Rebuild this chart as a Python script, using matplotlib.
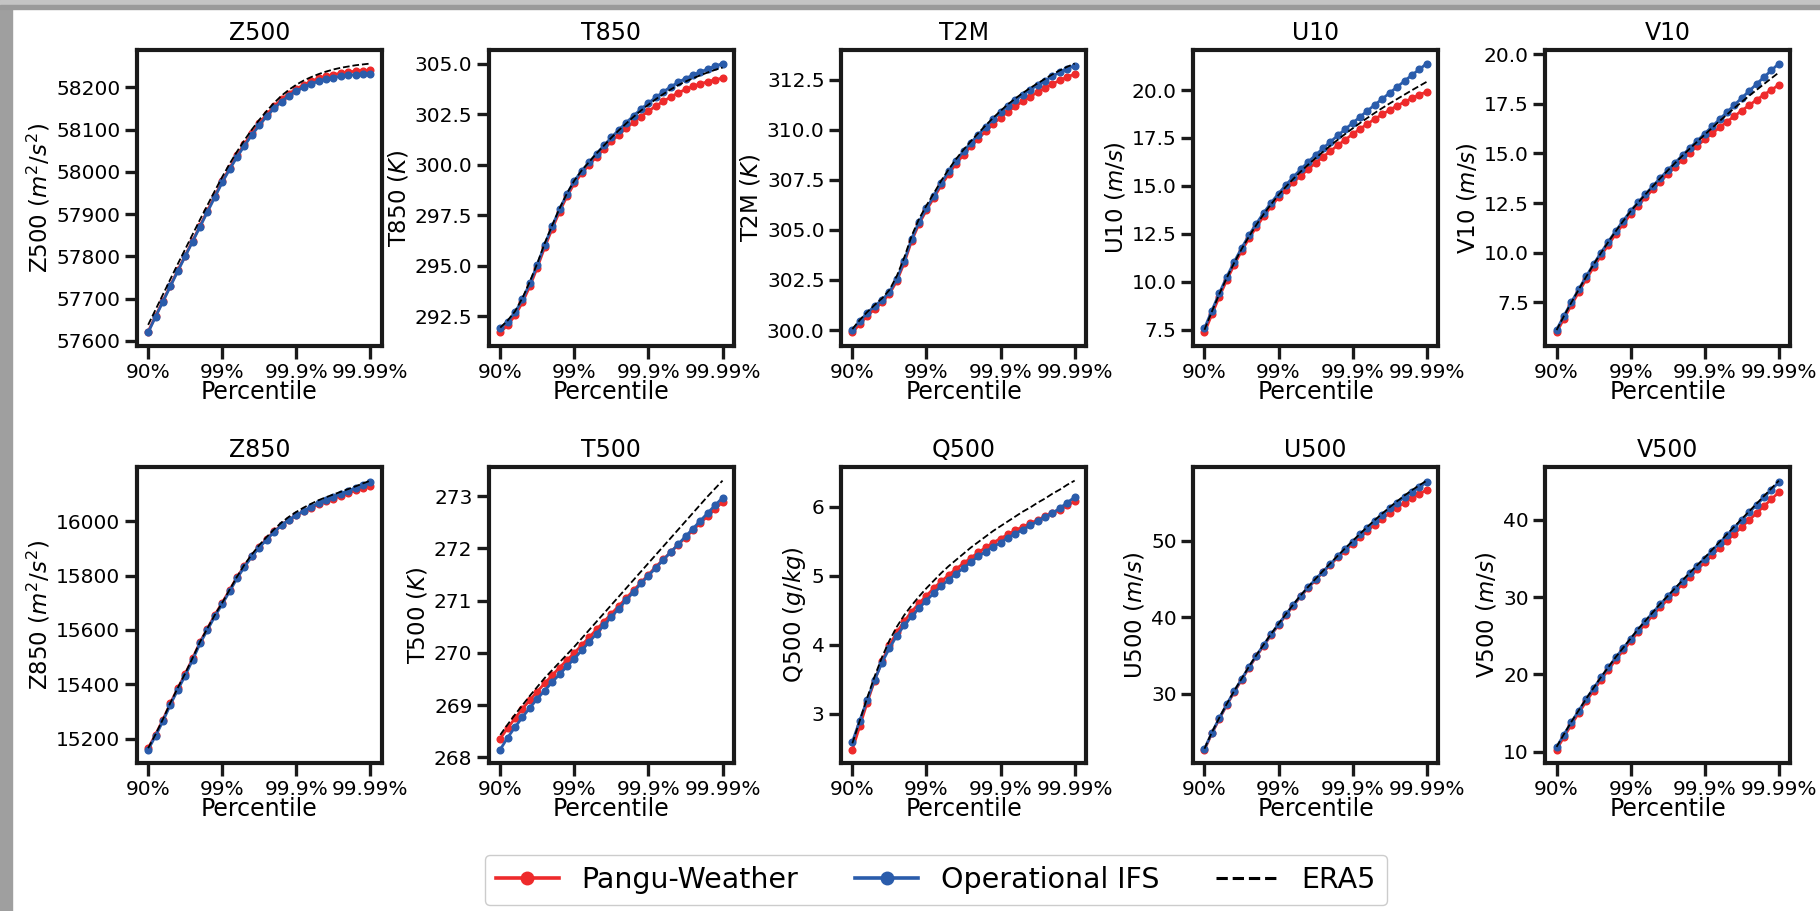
import numpy as np
import matplotlib
matplotlib.use("Agg")
import matplotlib.pyplot as plt
from matplotlib.lines import Line2D
from matplotlib.patches import Rectangle
from matplotlib.ticker import MultipleLocator

# posiciones en x: -log10(1 - p), 90% -> 1 ... 99.99% -> 4, paso 0.1
x_pos = np.arange(31) / 10 + 1
tick_pos = [1, 2, 3, 4]
tick_labels = ["90%", "99%", "99.9%", "99.99%"]

series_names = ["Pangu-Weather", "Operational IFS", "ERA5"]

# ---- fila superior ----
z500_pangu = [57622, 57659, 57695, 57731, 57767, 57802, 57837, 57872, 57908, 57943, 57978,
              58009, 58039, 58066, 58091, 58115, 58136, 58155, 58171, 58185, 58196,
              58206, 58214, 58221, 58226, 58230, 58233, 58236, 58238, 58239, 58240]
z500_ifs = [57620, 57657, 57693, 57729, 57765, 57800, 57835, 57870, 57905, 57940, 57975,
            58006, 58035, 58062, 58087, 58110, 58131, 58150, 58166, 58180, 58191,
            58200, 58208, 58214, 58219, 58223, 58226, 58228, 58230, 58231, 58232]
z500_era5 = [57638, 57674, 57710, 57746, 57782, 57817, 57852, 57887, 57921, 57955, 57988,
             58019, 58048, 58075, 58100, 58123, 58144, 58163, 58180, 58194, 58206,
             58216, 58224, 58231, 58237, 58242, 58246, 58249, 58252, 58254, 58256]

t850_pangu = [291.71, 292.08, 292.55, 293.2, 294.0, 294.92, 295.92, 296.83, 297.68, 298.43, 299.08,
              299.58, 300.0, 300.4, 300.78, 301.15, 301.48, 301.8, 302.1, 302.38, 302.65,
              302.9, 303.13, 303.35, 303.55, 303.72, 303.87, 304.0, 304.1, 304.2, 304.28]
t850_ifs = [291.91, 292.25, 292.7, 293.35, 294.15, 295.05, 296.05, 296.95, 297.8, 298.55, 299.2,
            299.7, 300.12, 300.55, 300.95, 301.35, 301.72, 302.08, 302.42, 302.75, 303.05,
            303.33, 303.6, 303.85, 304.07, 304.26, 304.43, 304.58, 304.73, 304.87, 305.0]
t850_era5 = [291.95, 292.3, 292.76, 293.42, 294.23, 295.13, 296.12, 297.0, 297.84, 298.58, 299.22,
             299.72, 300.14, 300.56, 300.95, 301.34, 301.7, 302.04, 302.37, 302.68, 302.97,
             303.24, 303.49, 303.72, 303.93, 304.11, 304.27, 304.42, 304.56, 304.69, 304.8]

t2m_pangu = [299.88, 300.3, 300.7, 301.05, 301.38, 301.8, 302.45, 303.35, 304.45, 305.3, 305.98,
             306.6, 307.23, 307.78, 308.3, 308.75, 309.17, 309.55, 309.93, 310.28, 310.6,
             310.9, 311.17, 311.42, 311.65, 311.87, 312.08, 312.28, 312.46, 312.63, 312.78]
t2m_ifs = [300.0, 300.45, 300.85, 301.2, 301.5, 301.9, 302.55, 303.45, 304.55, 305.4, 306.08,
           306.7, 307.35, 307.92, 308.45, 308.92, 309.35, 309.75, 310.15, 310.52, 310.87,
           311.2, 311.48, 311.75, 312.0, 312.22, 312.45, 312.67, 312.87, 313.05, 313.2]
t2m_era5 = [300.05, 300.5, 300.9, 301.25, 301.58, 302.0, 302.7, 303.62, 304.7, 305.55, 306.22,
            306.83, 307.46, 308.02, 308.54, 309.0, 309.43, 309.83, 310.22, 310.59, 310.94,
            311.27, 311.56, 311.83, 312.08, 312.31, 312.54, 312.76, 312.96, 313.14, 313.3]

u10_pangu = [7.36, 8.3, 9.22, 10.08, 10.88, 11.6, 12.26, 12.86, 13.42, 13.93, 14.41,
             14.8, 15.18, 15.53, 15.87, 16.2, 16.51, 16.82, 17.12, 17.41, 17.7,
             17.97, 18.24, 18.49, 18.73, 18.96, 19.18, 19.38, 19.57, 19.75, 19.91]
u10_ifs = [7.57, 8.5, 9.4, 10.25, 11.03, 11.75, 12.42, 13.03, 13.6, 14.12, 14.6,
           15.05, 15.47, 15.87, 16.25, 16.61, 16.96, 17.3, 17.63, 17.96, 18.28,
           18.6, 18.92, 19.23, 19.54, 19.85, 20.16, 20.47, 20.78, 21.08, 21.38]
u10_era5 = [7.5, 8.45, 9.36, 10.2, 10.98, 11.7, 12.36, 12.97, 13.53, 14.05, 14.53,
            14.96, 15.37, 15.75, 16.11, 16.45, 16.78, 17.1, 17.41, 17.71, 18.0,
            18.28, 18.55, 18.81, 19.06, 19.3, 19.53, 19.76, 19.99, 20.21, 20.43]

v10_pangu = [5.98, 6.68, 7.36, 8.02, 8.66, 9.27, 9.85, 10.41, 10.94, 11.45, 11.94,
             12.37, 12.79, 13.19, 13.58, 13.96, 14.33, 14.69, 15.04, 15.38, 15.71,
             16.01, 16.31, 16.6, 16.88, 17.16, 17.43, 17.7, 17.96, 18.21, 18.45]
v10_ifs = [6.11, 6.82, 7.5, 8.16, 8.8, 9.42, 10.0, 10.56, 11.1, 11.61, 12.1,
           12.53, 12.95, 13.36, 13.76, 14.15, 14.53, 14.91, 15.28, 15.64, 16.0,
           16.36, 16.72, 17.08, 17.44, 17.8, 18.15, 18.5, 18.85, 19.19, 19.53]
v10_era5 = [6.1, 6.81, 7.49, 8.15, 8.79, 9.41, 9.99, 10.55, 11.09, 11.6, 12.09,
            12.52, 12.94, 13.35, 13.75, 14.14, 14.52, 14.89, 15.25, 15.6, 15.95,
            16.29, 16.63, 16.96, 17.29, 17.6, 17.91, 18.2, 18.5, 18.79, 19.08]

# ---- fila inferior ----
z850_pangu = [15165, 15215, 15270, 15330, 15385, 15438, 15495, 15555, 15605, 15655, 15700,
              15747, 15794, 15836, 15873, 15906, 15935, 15962, 15986, 16005, 16021,
              16036, 16050, 16062, 16073, 16083, 16093, 16103, 16113, 16122, 16131]
z850_ifs = [15160, 15210, 15265, 15325, 15380, 15432, 15490, 15550, 15600, 15650, 15695,
            15742, 15790, 15832, 15870, 15903, 15932, 15960, 15985, 16005, 16022,
            16038, 16053, 16067, 16079, 16090, 16101, 16112, 16122, 16132, 16143]
z850_era5 = [15165, 15216, 15272, 15332, 15387, 15440, 15497, 15556, 15606, 15655, 15700,
             15748, 15796, 15840, 15878, 15912, 15942, 15970, 15995, 16016, 16034,
             16050, 16064, 16077, 16088, 16098, 16108, 16118, 16128, 16139, 16149]

t500_pangu = [268.36, 268.56, 268.75, 268.93, 269.1, 269.26, 269.42, 269.57, 269.72, 269.86, 270.0,
              270.15, 270.3, 270.45, 270.6, 270.75, 270.9, 271.05, 271.2, 271.35, 271.5,
              271.65, 271.79, 271.93, 272.07, 272.21, 272.35, 272.49, 272.62, 272.76, 272.89]
t500_ifs = [268.15, 268.38, 268.58, 268.77, 268.95, 269.12, 269.28, 269.44, 269.59, 269.74, 269.89,
            270.05, 270.21, 270.37, 270.53, 270.69, 270.85, 271.01, 271.17, 271.33, 271.48,
            271.63, 271.78, 271.93, 272.08, 272.23, 272.38, 272.53, 272.68, 272.83, 272.97]
t500_era5 = [268.43, 268.63, 268.82, 269.0, 269.18, 269.35, 269.52, 269.67, 269.82, 269.97, 270.12,
             270.28, 270.44, 270.6, 270.76, 270.92, 271.08, 271.24, 271.4, 271.56, 271.72,
             271.88, 272.04, 272.2, 272.36, 272.52, 272.68, 272.84, 273.0, 273.15, 273.3]

q500_pangu = [2.48, 2.82, 3.16, 3.48, 3.76, 3.99, 4.18, 4.34, 4.48, 4.6, 4.71,
              4.82, 4.92, 5.01, 5.1, 5.18, 5.26, 5.34, 5.41, 5.48, 5.54,
              5.6, 5.66, 5.71, 5.76, 5.81, 5.86, 5.91, 5.96, 6.02, 6.08]
q500_ifs = [2.59, 2.9, 3.2, 3.49, 3.74, 3.95, 4.13, 4.28, 4.41, 4.53, 4.64,
            4.75, 4.85, 4.94, 5.03, 5.11, 5.2, 5.28, 5.35, 5.42, 5.48,
            5.55, 5.61, 5.67, 5.73, 5.79, 5.85, 5.91, 5.98, 6.06, 6.14]
q500_era5 = [2.57, 2.9, 3.23, 3.54, 3.82, 4.06, 4.26, 4.43, 4.57, 4.7, 4.82,
             4.93, 5.04, 5.14, 5.23, 5.32, 5.41, 5.49, 5.57, 5.65, 5.72,
             5.79, 5.86, 5.93, 5.99, 6.06, 6.12, 6.19, 6.25, 6.32, 6.38]

u500_pangu = [22.7, 24.8, 26.7, 28.5, 30.2, 31.8, 33.4, 34.9, 36.3, 37.7, 39.0,
              40.3, 41.55, 42.75, 43.85, 44.9, 45.9, 46.9, 47.85, 48.75, 49.65,
              50.5, 51.35, 52.15, 52.9, 53.65, 54.35, 55.0, 55.6, 56.15, 56.7]
u500_ifs = [22.78, 24.9, 26.8, 28.6, 30.3, 31.9, 33.5, 35.0, 36.4, 37.8, 39.1,
            40.4, 41.65, 42.85, 43.95, 45.0, 46.0, 47.0, 48.0, 48.95, 49.9,
            50.85, 51.75, 52.6, 53.45, 54.25, 55.0, 55.75, 56.4, 57.05, 57.7]
u500_era5 = [22.8, 24.95, 26.85, 28.65, 30.35, 31.95, 33.55, 35.05, 36.45, 37.85, 39.15,
             40.45, 41.7, 42.9, 44.0, 45.05, 46.08, 47.08, 48.08, 49.05, 50.0,
             50.95, 51.87, 52.75, 53.6, 54.42, 55.2, 55.96, 56.65, 57.3, 57.9]

v500_pangu = [10.26, 11.9, 13.5, 15.0, 16.5, 17.9, 19.3, 20.6, 21.9, 23.1, 24.3,
              25.45, 26.55, 27.65, 28.7, 29.7, 30.7, 31.7, 32.65, 33.6, 34.5,
              35.45, 36.4, 37.3, 38.2, 39.1, 40.0, 40.9, 41.8, 42.7, 43.6]
v500_ifs = [10.56, 12.2, 13.8, 15.3, 16.8, 18.2, 19.6, 20.9, 22.2, 23.4, 24.6,
            25.8, 26.9, 28.0, 29.1, 30.1, 31.1, 32.1, 33.1, 34.05, 35.0,
            36.02, 37.03, 38.03, 39.02, 40.0, 40.98, 41.96, 42.94, 43.92, 44.9]
v500_era5 = [10.6, 12.25, 13.85, 15.35, 16.85, 18.25, 19.65, 20.95, 22.25, 23.45, 24.65,
             25.85, 26.95, 28.05, 29.15, 30.15, 31.17, 32.18, 33.19, 34.16, 35.13,
             36.15, 37.16, 38.16, 39.15, 40.14, 41.13, 42.12, 43.11, 44.1, 45.1]

panels = [
    ("Z500", r"Z500 ($m^2/s^2$)", z500_pangu, z500_ifs, z500_era5, 100),
    ("T850", r"T850 ($K$)", t850_pangu, t850_ifs, t850_era5, 2.5),
    ("T2M", r"T2M ($K$)", t2m_pangu, t2m_ifs, t2m_era5, 2.5),
    ("U10", r"U10 ($m/s$)", u10_pangu, u10_ifs, u10_era5, 2.5),
    ("V10", r"V10 ($m/s$)", v10_pangu, v10_ifs, v10_era5, 2.5),
    ("Z850", r"Z850 ($m^2/s^2$)", z850_pangu, z850_ifs, z850_era5, 200),
    ("T500", r"T500 ($K$)", t500_pangu, t500_ifs, t500_era5, 1),
    ("Q500", r"Q500 ($g/kg$)", q500_pangu, q500_ifs, q500_era5, 1),
    ("U500", r"U500 ($m/s$)", u500_pangu, u500_ifs, u500_era5, 10),
    ("V500", r"V500 ($m/s$)", v500_pangu, v500_ifs, v500_era5, 10),
]

rojo = "#ee2a2b"
azul = "#2a5cab"

plt.rcParams["font.family"] = ["DejaVu Sans"]

fig, axes = plt.subplots(2, 5, figsize=(18.2, 9.11), dpi=100)
fig.subplots_adjust(left=0.0753, right=0.9835, top=0.945, bottom=0.1625,
                    wspace=0.44, hspace=0.41)

for ax, (titulo, ylabel, pangu, ifs, era5, paso) in zip(axes.flat, panels):
    ax.plot(x_pos, pangu, color=rojo, lw=2, marker="o", ms=4.8, zorder=2)
    ax.plot(x_pos, ifs, color=azul, lw=2, marker="o", ms=4.8, zorder=3)
    ax.plot(x_pos, era5, color="black", lw=1.3, ls="--", zorder=4)
    ax.set_title(titulo, fontsize=17, pad=7)
    ax.set_ylabel(ylabel, fontsize=16.5, labelpad=3)
    ax.set_xlabel("Percentile", fontsize=17, labelpad=-1)
    ax.set_xticks(tick_pos)
    ax.set_xticklabels(tick_labels)
    ax.yaxis.set_major_locator(MultipleLocator(paso))
    ax.margins(x=0.05, y=0.05)
    ax.tick_params(axis="both", labelsize=14.5, length=9, width=2.4, pad=3,
                   color="#1a1a1a")
    for sp in ax.spines.values():
        sp.set_linewidth(3)
        sp.set_color("#1a1a1a")

handles = [
    Line2D([], [], color=rojo, lw=2.6, marker="o", ms=9),
    Line2D([], [], color=azul, lw=2.6, marker="o", ms=9),
    Line2D([], [], color="black", lw=2.2, ls="--"),
]
fig.legend(handles, series_names, loc="center", ncol=3,
           bbox_to_anchor=(936 / 1820, 1 - 880 / 911), fontsize=20.5,
           handlelength=2.2, handletextpad=0.8, columnspacing=2.0,
           frameon=True, fancybox=True, edgecolor="#cccccc",
           borderpad=0.4, framealpha=1)

# marco gris de la captura (bordes izquierdo y superior)
fig.patches.append(Rectangle((0, 0), 12 / 1820, 1, transform=fig.transFigure,
                             color="#9f9f9f", zorder=0))
fig.patches.append(Rectangle((0, 1 - 5 / 911), 1, 5 / 911, transform=fig.transFigure,
                             color="#c4c4c4", zorder=0))
fig.patches.append(Rectangle((0, 1 - 9 / 911), 1, 4 / 911, transform=fig.transFigure,
                             color="#9a9a9a", zorder=0))

fig.savefig("out.png", dpi=100)
